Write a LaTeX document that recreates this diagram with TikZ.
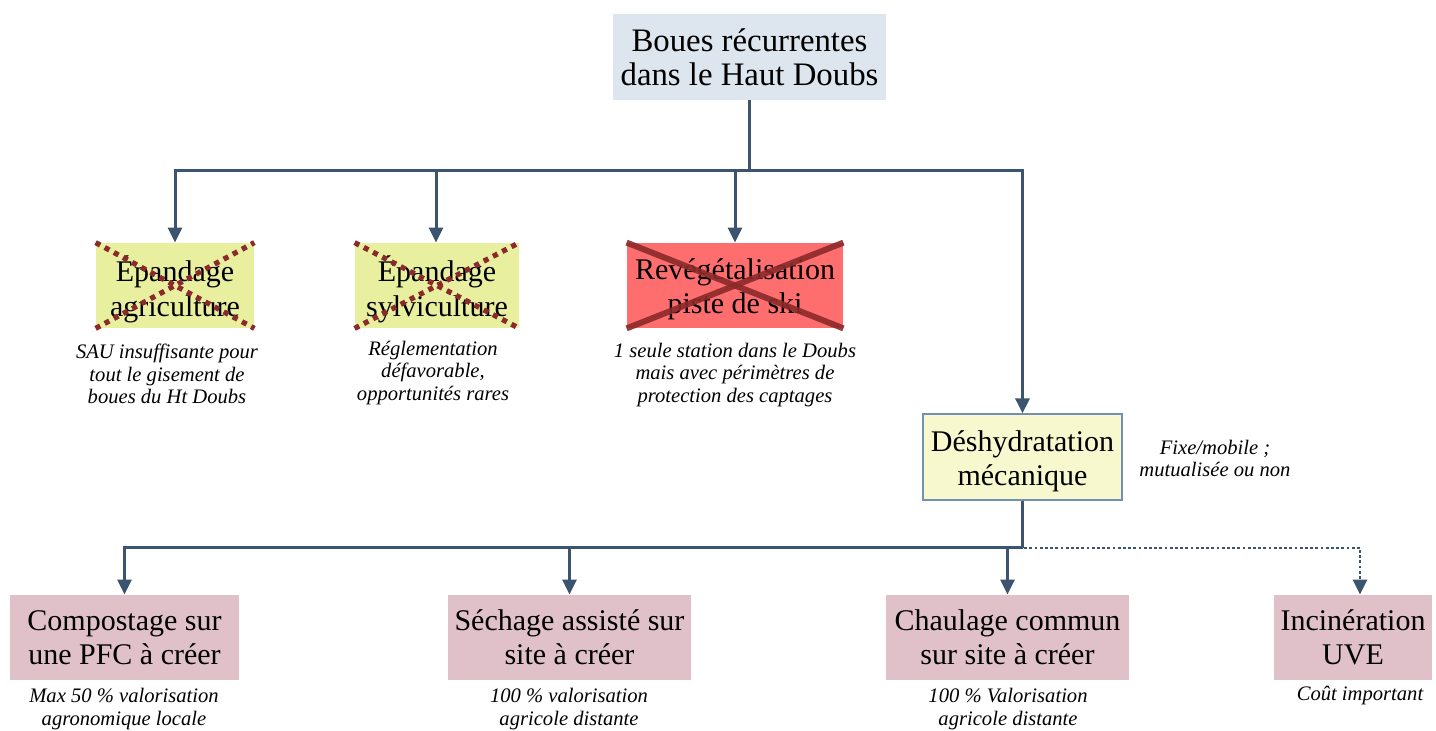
\documentclass[tikz,border=0pt]{standalone}
\usepackage{fontspec}
\setmainfont{Liberation Serif}
\usetikzlibrary{arrows.meta}
\definecolor{linec}{HTML}{3B5570}
\definecolor{topfill}{HTML}{DDE5EE}
\definecolor{greenfill}{HTML}{E8F0A0}
\definecolor{redfill}{HTML}{FF6E6E}
\definecolor{crossc}{HTML}{8B2A2A}
\definecolor{dryfill}{HTML}{F8F8CF}
\definecolor{dryline}{HTML}{7290B0}
\definecolor{pinkfill}{HTML}{E0C1CA}
\tikzset{
  box/.style={inner sep=0pt, align=center, font=\fontsize{15}{17.2}\selectfont},
  % box whose two lines sit a little lower than the centre
  lowbox/.style={inner sep=0pt, minimum height=42.5pt,
    label={[box, yshift=-2pt]center:#1}},
  note/.style={inner sep=0pt, align=center, font=\fontsize{10.3}{11.3}\selectfont\itshape},
  link/.style={draw=linec, line width=1.5pt},
  arr/.style={link, -{Triangle[length=7.5pt,width=7pt]}},
  cross/.style={draw=crossc, line width=2.6pt},
}
\begin{document}
\begin{tikzpicture}[x=0.5pt, y=-0.5pt]
\useasboundingbox (0,0) rectangle (1436,731);

% top level
\node[box, font=\fontsize{16.4}{17.2}\selectfont, fill=topfill, minimum width=136.5pt, minimum height=43pt] (top) at (749.5,57)
  {Boues récurrentes\\dans le Haut Doubs};

% first level options
\node[lowbox={Épandage\\agriculture}, fill=greenfill, minimum width=79pt] (agri) at (175,285.5) {};
\node[lowbox={Épandage\\sylviculture}, fill=greenfill, minimum width=82pt] (sylv) at (437,285.5) {};
\node[lowbox={Revégétalisation\\piste de ski}, fill=redfill, minimum width=108pt] (reveg) at (735,285.5) {};
\node[lowbox={Déshydratation\\mécanique}, fill=dryfill, draw=dryline, line width=0.6pt,
  minimum width=99.5pt, minimum height=43pt] (dry) at (1022.5,457) {};

% crossed out options
\draw[cross, dash pattern=on 2.6pt off 2.6pt] (agri.north west) -- (agri.south east);
\draw[cross, dash pattern=on 2.6pt off 2.6pt] (agri.south west) -- (agri.north east);
\draw[cross, dash pattern=on 2.6pt off 2.6pt] (sylv.north west) -- (sylv.south east);
\draw[cross, dash pattern=on 2.6pt off 2.6pt] (sylv.south west) -- (sylv.north east);
\draw[cross, line width=3pt, opacity=0.9] (reveg.north west) -- (reveg.south east);
\draw[cross, line width=3pt, opacity=0.9] (reveg.south west) -- (reveg.north east);

% notes of first level
\node[note] (nagri) at (167,374) {SAU insuffisante pour\\tout le gisement de\\boues du Ht Doubs};
\node[note] (nsylv) at (433,373) {Réglementation\\défavorable,\\opportunités rares};
\node[note] (nreveg) at (735,375) {1 seule station dans le Doubs\\mais avec périmètres de\\protection des captages};
\node[note] (ndry) at (1215,458.5) {Fixe/mobile ;\\mutualisée ou non};

% second level options
\node[box, fill=pinkfill, minimum width=114.5pt, minimum height=42.5pt] (comp) at (124.5,637.5)
  {Compostage sur\\une PFC à créer};
\node[box, fill=pinkfill, minimum width=121.5pt, minimum height=42.5pt] (sech) at (569.5,637.5)
  {Séchage assisté sur\\site à créer};
\node[box, fill=pinkfill, minimum width=121.5pt, minimum height=42.5pt] (chaul) at (1007.5,637.5)
  {Chaulage commun\\sur site à créer};
\node[box, fill=pinkfill, minimum width=79pt, minimum height=42.5pt] (inc) at (1353,637.5)
  {Incinération\\UVE};

\node[note] (ncomp) at (124,709) {Max 50 \% valorisation\\agronomique locale};
\node[note] (nsech) at (569,709) {100 \% valorisation\\agricole distante};
\node[note] (nchaul) at (1008,709) {100 \% Valorisation\\agricole distante};
\node[note] (ninc) at (1360,696) {Coût important};

% connectors
\coordinate (j1) at (749.5,171);
\coordinate (j2) at (1022.5,548);
\draw[link] (top.south) -- (j1);
\draw[arr] (j1) -| (agri.north);
\draw[arr] (j1) -| ([xshift=-0.5pt]sylv.north);
\draw[arr] (j1) -| (reveg.north);
\draw[arr] (j1) -| (dry.north);

\draw[link] (dry.south) -- (j2);
\draw[arr] (j2) -| (comp.north);
\draw[arr] (j2) -| (sech.north);
\draw[arr] (j2) -| (chaul.north);
\draw[arr, dash pattern=on 1.4pt off 1.2pt, line width=1.4pt] ([xshift=0.8pt]j2) -| ([xshift=3.5pt]inc.north);
\end{tikzpicture}
\end{document}
